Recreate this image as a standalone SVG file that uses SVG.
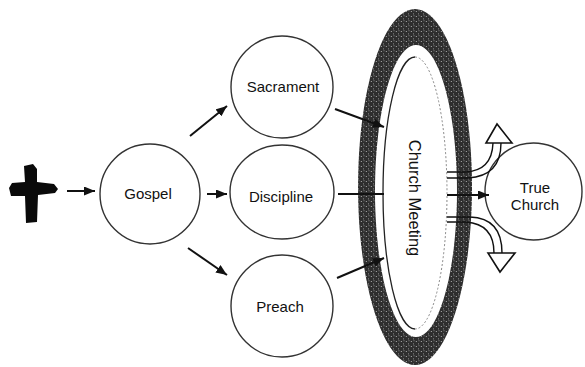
<svg xmlns="http://www.w3.org/2000/svg" width="585" height="367" viewBox="0 0 585 367">
<style>
.node{fill:#fff;stroke:#333;stroke-width:1.4}
.lbl{font-family:"Liberation Sans",Arial,sans-serif;font-size:15px;fill:#111;text-anchor:middle}
.conn{stroke:#111;stroke-width:2;fill:none}
.dbl{stroke:#111;stroke-width:1.4;fill:none}
.hollow{fill:#fff;stroke:#111;stroke-width:1.6;stroke-linejoin:miter}
</style>
<defs>
<marker id="ah" markerUnits="userSpaceOnUse" markerWidth="11" markerHeight="9" refX="11" refY="4.5" orient="auto">
<path d="M0,0 L11,4.5 L0,9 Z" fill="#111"/>
</marker>
<pattern id="spk" width="5" height="5" patternUnits="userSpaceOnUse">
<rect width="5" height="5" fill="#2e2e2e"/>
<rect x="0.8" y="1" width="1.2" height="1" fill="#9a9a9a"/>
<rect x="3" y="3.2" width="1" height="1.3" fill="#7a7a7a"/>
<rect x="3.6" y="0.4" width="0.8" height="0.8" fill="#bbb"/>
</pattern>
</defs>
<rect width="585" height="367" fill="#fff"/>

<g id="cross">
<path d="M24,166 L33,164 L37,169 L37,182 L54,184 L58,189 L55,193 L38,195 L37,222 L26,223 L25,196 L11,196 L9,188 L12,183 L25,182 Z" fill="#0a0a0a"/>
</g>

<g id="gospel">
<circle class="node" cx="150" cy="194" r="50"/>
<text class="lbl" x="148" y="199">Gospel</text>
</g>

<g id="sacrament">
<circle class="node" cx="282" cy="87" r="51"/>
<text class="lbl" x="283" y="92">Sacrament</text>
</g>

<g id="discipline">
<ellipse class="node" cx="282" cy="192" rx="52" ry="47"/>
<text class="lbl" x="281" y="202">Discipline</text>
</g>

<g id="preach">
<circle class="node" cx="282" cy="306" r="51"/>
<text class="lbl" x="280" y="312">Preach</text>
</g>

<g id="church-meeting">
<path d="M415,9 A57,178 0 1 0 415.01,9 Z M416,45 A41,146 0 1 1 415.99,45 Z" fill="url(#spk)" fill-rule="evenodd"/>
<path d="M415,57 A32,136 0 0 0 415,329" fill="none" stroke="#222" stroke-width="1.3"/>
<path d="M415,57 A32,136 0 0 1 415,329" fill="none" stroke="#888" stroke-width="1" stroke-dasharray="2,2"/>
<text class="lbl" transform="translate(415,198) rotate(90)" dominant-baseline="central" style="font-size:16.5px">Church Meeting</text>
</g>

<g id="true-church">
<circle class="node" cx="533.5" cy="191.5" r="48.5"/>
<text class="lbl" x="535" y="193">True</text>
<text class="lbl" x="535" y="210">Church</text>
</g>

<g id="connectors">
<line class="conn" x1="67" y1="191" x2="95" y2="191" marker-end="url(#ah)"/>
<line class="conn" x1="190" y1="136" x2="227" y2="106" marker-end="url(#ah)"/>
<line class="conn" x1="207" y1="194" x2="227" y2="194" marker-end="url(#ah)"/>
<line class="conn" x1="188" y1="248" x2="227" y2="275" marker-end="url(#ah)"/>
<line class="conn" x1="335" y1="109" x2="384" y2="127" marker-end="url(#ah)"/>
<line class="conn" x1="338" y1="194" x2="384" y2="194"/>
<line class="conn" x1="337" y1="278" x2="384" y2="258" marker-end="url(#ah)"/>
<line class="conn" x1="447" y1="195" x2="489" y2="195" marker-end="url(#ah)"/>
<path class="dbl" d="M447,172 L465,172 Q492,171 493,143"/>
<path class="dbl" d="M447,178 L468,178 Q501,176 501,143"/>
<polygon class="hollow" points="486,143 512,143 497,124"/>
<path class="dbl" d="M447,217 L470,217 Q502,218 502,253"/>
<path class="dbl" d="M447,222 L466,222 Q494,224 494,253"/>
<polygon class="hollow" points="488,253 515,253 500,272"/>
</g>
</svg>
